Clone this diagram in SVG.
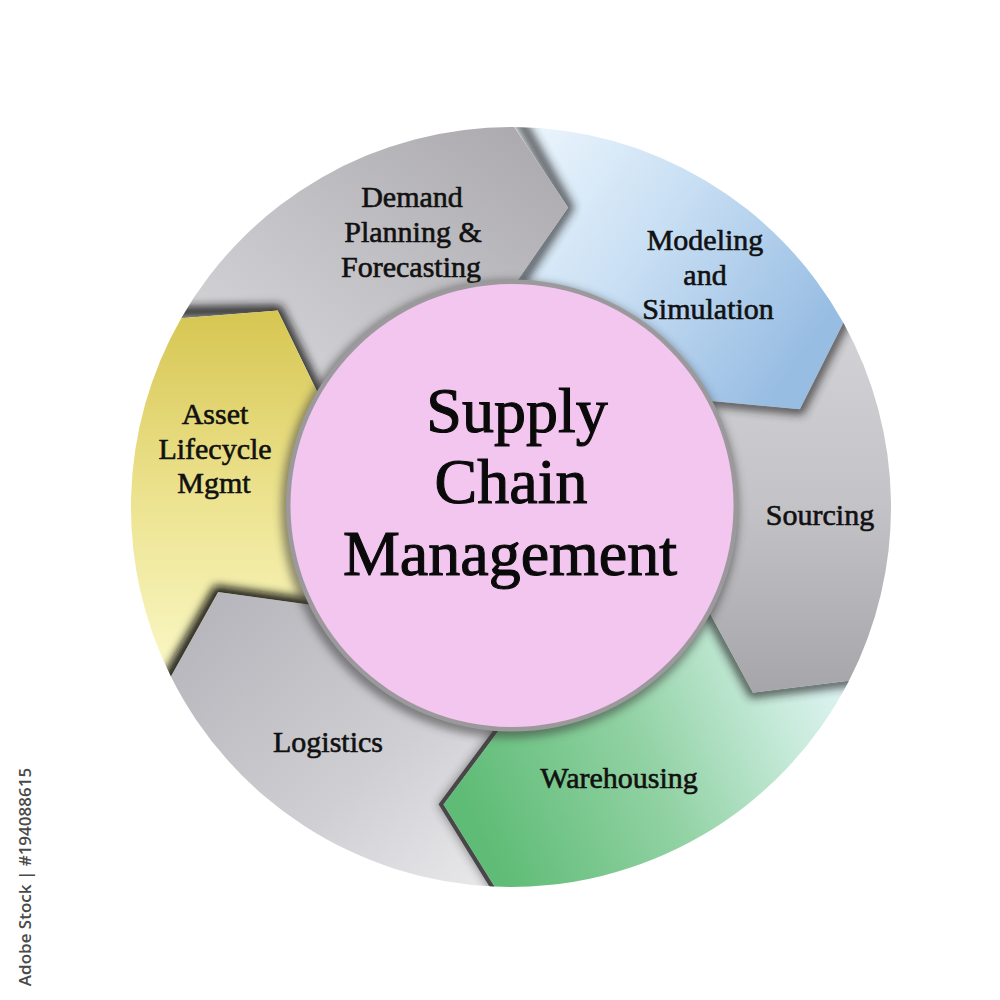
<svg xmlns="http://www.w3.org/2000/svg" width="1000" height="1000" viewBox="0 0 1000 1000">
<style>
.lbl{font-family:"Liberation Serif","Times New Roman",serif;font-size:30px;fill:#111;stroke:#111;stroke-width:0.6px;text-anchor:middle}
.title{font-family:"Liberation Serif","Times New Roman",serif;font-size:64px;fill:#0a0a0a;stroke:#0a0a0a;stroke-width:1.1px;text-anchor:middle}
.sh{fill:none;stroke:#262626;stroke-width:10;stroke-linejoin:miter;filter:url(#blur)}
.wm{font-family:"Open Sans","DejaVu Sans",sans-serif;font-size:17px;font-weight:600;fill:#4a4a4a}
</style>
<defs>
<filter id="blur" x="-30%" y="-30%" width="160%" height="160%"><feGaussianBlur stdDeviation="5"/></filter>
<filter id="blur2" x="-20%" y="-20%" width="140%" height="140%"><feGaussianBlur stdDeviation="4"/></filter>
<linearGradient id="gDemand" x1="0" y1="1" x2="1" y2="0"><stop offset="0" stop-color="#dadadd"/><stop offset="1" stop-color="#a9a7ac"/></linearGradient>
<linearGradient id="gModel" x1="0" y1="0" x2="1" y2="0.6"><stop offset="0" stop-color="#eef7fd"/><stop offset="0.5" stop-color="#c7def3"/><stop offset="1" stop-color="#98bde3"/></linearGradient>
<linearGradient id="gSource" x1="0" y1="0" x2="0" y2="1"><stop offset="0" stop-color="#d3d2d6"/><stop offset="0.5" stop-color="#c3c2c6"/><stop offset="1" stop-color="#a6a5aa"/></linearGradient>
<linearGradient id="gWare" x1="0" y1="0.5" x2="1" y2="0.2"><stop offset="0" stop-color="#5fbc76"/><stop offset="0.45" stop-color="#92d2a4"/><stop offset="0.8" stop-color="#c8ebdc"/><stop offset="1" stop-color="#e2f4f6"/></linearGradient>
<linearGradient id="gLog" x1="0" y1="0" x2="1" y2="1"><stop offset="0" stop-color="#b3b2b8"/><stop offset="0.6" stop-color="#cfced3"/><stop offset="1" stop-color="#eaeaec"/></linearGradient>
<linearGradient id="gAsset" x1="0" y1="0" x2="0" y2="1"><stop offset="0" stop-color="#d6c652"/><stop offset="0.5" stop-color="#ece28e"/><stop offset="1" stop-color="#faf8c6"/></linearGradient>
<clipPath id="cDemand"><path d="M181.2,318.2 A380,380 0 0 1 514.3,127.0 L568.2,207.4 L512.9,287.0 A220,220 0 0 0 320.1,397.7 L277.7,310.5 Z"/></clipPath>
<clipPath id="cModel"><path d="M514.3,127.0 A380,380 0 0 1 843.4,322.8 L799.9,409.2 L703.4,400.3 A220,220 0 0 0 512.9,287.0 L568.2,207.4 Z"/></clipPath>
<clipPath id="cSource"><path d="M843.4,322.8 A380,380 0 0 1 849.0,680.7 L753.0,692.7 L706.7,607.6 A220,220 0 0 0 703.4,400.3 L799.9,409.2 Z"/></clipPath>
<clipPath id="cWare"><path d="M849.0,680.7 A380,380 0 0 1 494.4,886.6 L443.4,804.4 L501.4,726.8 A220,220 0 0 0 706.7,607.6 L753.0,692.7 Z"/></clipPath>
<clipPath id="cLog"><path d="M494.4,886.6 A380,380 0 0 1 170.9,676.6 L218.1,592.1 L314.1,605.2 A220,220 0 0 0 501.4,726.8 L443.4,804.4 Z"/></clipPath>
<clipPath id="cAsset"><path d="M170.9,676.6 A380,380 0 0 1 181.2,318.2 L277.7,310.5 L320.1,397.7 A220,220 0 0 0 314.1,605.2 L218.1,592.1 Z"/></clipPath>
</defs>
<rect width="1000" height="1000" fill="#ffffff"/>

<g id="demand">
<path d="M181.2,318.2 A380,380 0 0 1 514.3,127.0 L568.2,207.4 L512.9,287.0 A220,220 0 0 0 320.1,397.7 L277.7,310.5 Z" fill="url(#gDemand)"/>
<g clip-path="url(#cDemand)"><polyline class="sh" points="170,312 277.7,310.5 325,408" style="stroke:#1e1e1e"/></g>
<text class="lbl" x="412" y="207">Demand</text>
<text class="lbl" x="413" y="242">Planning &amp;</text>
<text class="lbl" x="411" y="277">Forecasting</text>
</g>

<g id="modeling">
<path d="M514.3,127.0 A380,380 0 0 1 843.4,322.8 L799.9,409.2 L703.4,400.3 A220,220 0 0 0 512.9,287.0 L568.2,207.4 Z" fill="url(#gModel)"/>
<g clip-path="url(#cModel)"><polyline class="sh" points="514,110 568.2,207.4 512,295" style="opacity:0.8"/></g>
<text class="lbl" x="705" y="250">Modeling</text>
<text class="lbl" x="705" y="285">and</text>
<text class="lbl" x="708" y="319">Simulation</text>
</g>

<g id="sourcing">
<path d="M843.4,322.8 A380,380 0 0 1 849.0,680.7 L753.0,692.7 L706.7,607.6 A220,220 0 0 0 703.4,400.3 L799.9,409.2 Z" fill="url(#gSource)"/>
<g clip-path="url(#cSource)"><polyline class="sh" points="855,300 799.9,409.2 695,399" style="opacity:0.8"/></g>
<text class="lbl" x="820" y="525">Sourcing</text>
</g>

<g id="warehousing">
<path d="M849.0,680.7 A380,380 0 0 1 494.4,886.6 L443.4,804.4 L501.4,726.8 A220,220 0 0 0 706.7,607.6 L753.0,692.7 Z" fill="url(#gWare)"/>
<g clip-path="url(#cWare)"><polyline class="sh" points="865,679 753.0,692.7 700,596" style="opacity:0.8"/></g>
<text class="lbl" x="619" y="788">Warehousing</text>
</g>

<g id="logistics">
<path d="M494.4,886.6 A380,380 0 0 1 170.9,676.6 L218.1,592.1 L314.1,605.2 A220,220 0 0 0 501.4,726.8 L443.4,804.4 Z" fill="url(#gLog)"/>
<g clip-path="url(#cLog)">
<polyline class="sh" points="500,896 443.4,804.4 506,720" style="opacity:0.45"/>
<polyline points="500,896 443.4,804.4 506,720" fill="none" stroke="#474747" stroke-width="8" stroke-linejoin="miter"/>
</g>
<text class="lbl" x="328" y="752">Logistics</text>
</g>

<g id="asset">
<path d="M170.9,676.6 A380,380 0 0 1 181.2,318.2 L277.7,310.5 L320.1,397.7 A220,220 0 0 0 314.1,605.2 L218.1,592.1 Z" fill="url(#gAsset)"/>
<g clip-path="url(#cAsset)"><polyline class="sh" points="160,694 218.1,592.1 325,607" style="stroke:#111;stroke-width:12"/></g>
<text class="lbl" x="215" y="424">Asset</text>
<text class="lbl" x="215" y="459">Lifecycle</text>
<text class="lbl" x="214" y="493">Mgmt</text>
</g>

<g id="center">
<circle cx="510" cy="509" r="229" fill="#3a3a3a" opacity="0.55" filter="url(#blur2)"/>
<circle cx="512" cy="505.5" r="226" fill="#9c999c"/>
<circle cx="512" cy="505.5" r="221.5" fill="#f2c6ef"/>
<text class="title" x="517" y="432">Supply</text>
<text class="title" x="511" y="503">Chain</text>
<text class="title" x="510" y="575">Management</text>
</g>

<text class="wm" transform="translate(31,877) rotate(-90)" text-anchor="middle">Adobe Stock | #194088615</text>
</svg>
